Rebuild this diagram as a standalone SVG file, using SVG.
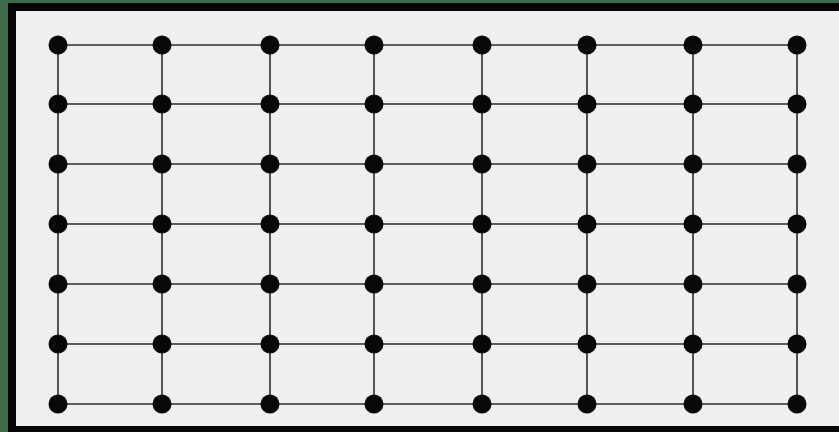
<svg xmlns="http://www.w3.org/2000/svg" width="839" height="432" viewBox="0 0 839 432">
<style>
.e{stroke:#2e2e2e;stroke-width:1.6;fill:none}
.n{fill:#080808}
</style>
<rect x="0" y="0" width="839" height="432" fill="#3d6b4c"/>
<rect x="8" y="3" width="831" height="429" fill="#050505"/>
<rect x="16" y="11" width="823" height="415" fill="#efefed"/>
<g id="connectors">
<path class="e" d="M58 45H797M58 104H797M58 164H797M58 224H797M58 284H797M58 344H797M58 404H797"/>
<path class="e" d="M58 45V404M162 45V404M270 45V404M374 45V404M482 45V404M587 45V404M693 45V404M797 45V404"/>
</g>
<g id="nodes">
<g id="r1"><circle class="n" cx="58" cy="45" r="9.5"/><circle class="n" cx="162" cy="45" r="9.5"/><circle class="n" cx="270" cy="45" r="9.5"/><circle class="n" cx="374" cy="45" r="9.5"/><circle class="n" cx="482" cy="45" r="9.5"/><circle class="n" cx="587" cy="45" r="9.5"/><circle class="n" cx="693" cy="45" r="9.5"/><circle class="n" cx="797" cy="45" r="9.5"/></g>
<g id="r2"><circle class="n" cx="58" cy="104" r="9.5"/><circle class="n" cx="162" cy="104" r="9.5"/><circle class="n" cx="270" cy="104" r="9.5"/><circle class="n" cx="374" cy="104" r="9.5"/><circle class="n" cx="482" cy="104" r="9.5"/><circle class="n" cx="587" cy="104" r="9.5"/><circle class="n" cx="693" cy="104" r="9.5"/><circle class="n" cx="797" cy="104" r="9.5"/></g>
<g id="r3"><circle class="n" cx="58" cy="164" r="9.5"/><circle class="n" cx="162" cy="164" r="9.5"/><circle class="n" cx="270" cy="164" r="9.5"/><circle class="n" cx="374" cy="164" r="9.5"/><circle class="n" cx="482" cy="164" r="9.5"/><circle class="n" cx="587" cy="164" r="9.5"/><circle class="n" cx="693" cy="164" r="9.5"/><circle class="n" cx="797" cy="164" r="9.5"/></g>
<g id="r4"><circle class="n" cx="58" cy="224" r="9.5"/><circle class="n" cx="162" cy="224" r="9.5"/><circle class="n" cx="270" cy="224" r="9.5"/><circle class="n" cx="374" cy="224" r="9.5"/><circle class="n" cx="482" cy="224" r="9.5"/><circle class="n" cx="587" cy="224" r="9.5"/><circle class="n" cx="693" cy="224" r="9.5"/><circle class="n" cx="797" cy="224" r="9.5"/></g>
<g id="r5"><circle class="n" cx="58" cy="284" r="9.5"/><circle class="n" cx="162" cy="284" r="9.5"/><circle class="n" cx="270" cy="284" r="9.5"/><circle class="n" cx="374" cy="284" r="9.5"/><circle class="n" cx="482" cy="284" r="9.5"/><circle class="n" cx="587" cy="284" r="9.5"/><circle class="n" cx="693" cy="284" r="9.5"/><circle class="n" cx="797" cy="284" r="9.5"/></g>
<g id="r6"><circle class="n" cx="58" cy="344" r="9.5"/><circle class="n" cx="162" cy="344" r="9.5"/><circle class="n" cx="270" cy="344" r="9.5"/><circle class="n" cx="374" cy="344" r="9.5"/><circle class="n" cx="482" cy="344" r="9.5"/><circle class="n" cx="587" cy="344" r="9.5"/><circle class="n" cx="693" cy="344" r="9.5"/><circle class="n" cx="797" cy="344" r="9.5"/></g>
<g id="r7"><circle class="n" cx="58" cy="404" r="9.5"/><circle class="n" cx="162" cy="404" r="9.5"/><circle class="n" cx="270" cy="404" r="9.5"/><circle class="n" cx="374" cy="404" r="9.5"/><circle class="n" cx="482" cy="404" r="9.5"/><circle class="n" cx="587" cy="404" r="9.5"/><circle class="n" cx="693" cy="404" r="9.5"/><circle class="n" cx="797" cy="404" r="9.5"/></g>
</g>
</svg>
